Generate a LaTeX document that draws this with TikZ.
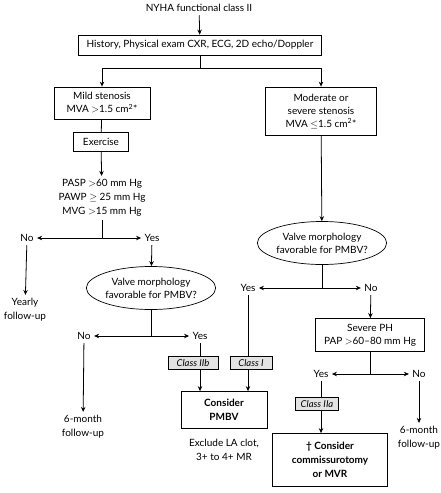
\documentclass[tikz,border=0pt]{standalone}
\usepackage{fontspec}
\setmainfont{Lato}
\usetikzlibrary{arrows.meta,positioning,shapes.geometric,calc}

\tikzset{
  box/.style={draw,line width=0.8pt,align=center,inner sep=2pt},
  classbox/.style={draw,line width=0.6pt,fill=gray!22,font=\fontsize{9.5}{10}\selectfont\itshape,
    inner sep=1pt,minimum height=13pt},
  decide/.style={ellipse,draw,line width=0.7pt,align=center,inner sep=0pt},
  txt/.style={align=center},
  line/.style={line width=0.8pt},
  arr/.style={line width=0.8pt,-{Stealth[length=5pt,width=4.5pt]}}
}

\begin{document}
\begin{tikzpicture}[x=1pt,y=-1pt,font=\fontsize{10}{13}\selectfont]
  \useasboundingbox (0,0) rectangle (441,493);
  % Top part
  \node[txt] (title) at (199,8) {NYHA functional class II};
  \node[box,minimum width=243pt,minimum height=20pt] (hist) at (200,45)
    {History, Physical exam CXR, ECG, 2D echo/Doppler};
  \node[box,minimum width=96pt,minimum height=32pt] (mild) at (102,103)
    {Mild stenosis\\MVA $>$1.5 cm\textsuperscript{2}*};
  \node[box,minimum width=111pt,minimum height=48pt] (mod) at (321,111)
    {Moderate or\\severe stenosis\\MVA $\leq$1.5 cm\textsuperscript{2}*};
  \coordinate (split1) at (200,68);
  \draw[line] (hist) -- (split1);
  \draw[arr] (split1) -| (mild);
  \draw[arr] (split1) -| (mod);
  \draw[arr] (title) -- (hist);

  % Mild stenosis branch
  \node[box,minimum width=55pt,minimum height=19pt] (exer) at (101,142) {Exercise};
  \node[txt,font=\fontsize{10}{14}\selectfont] (pasp) at (102,198)
    {PASP $>$60 mm Hg\\PAWP $\geq$ 25 mm Hg\\MVG $>$15 mm Hg};
  \draw[line] (mild) -- (exer);
  \draw[arr] (exer) -- (pasp);
  \node[txt] (no1) at (27,238) {No};
  \node[txt] (yes1) at (152,238) {Yes};
  \coordinate (split2) at (102,238);
  \draw[line] (pasp) -- (split2);
  \draw[arr] (split2) -- (no1);
  \draw[arr] (split2) -- (yes1);
  \node[txt,font=\fontsize{10}{14}\selectfont] (yearly) at (25,310) {Yearly\\follow-up};
  \draw[arr] (no1) -- (yearly);
  \node[decide,minimum width=112pt,minimum height=43pt] (valve1) at (151,288)
    {Valve morphology\\favorable for PMBV?};
  \draw[arr] (yes1) -- (valve1);
  \node[txt] (no2) at (84,336) {No};
  \node[txt] (yes2) at (200,336) {Yes};
  \coordinate (split3) at (151,336);
  \draw[line] (valve1) -- (split3);
  \draw[arr] (split3) -- (no2);
  \draw[arr] (split3) -- (yes2);
  \node[txt,font=\fontsize{10}{14}\selectfont] (sixm1) at (83,427) {6-month\\follow-up};
  \draw[arr] (no2) -- (sixm1);

  % Moderate or severe branch
  \node[decide,minimum width=110pt,minimum height=43pt] (valve2) at (322,243)
    {Valve morphology\\favorable for PMBV?};
  \draw[arr] (mod) -- (valve2);
  \node[txt] (yes3) at (248,288) {Yes};
  \node[txt] (no3) at (371,288) {No};
  \coordinate (split4) at (322,288);
  \draw[line] (valve2) -- (split4);
  \draw[arr] (split4) -- (yes3);
  \draw[arr] (split4) -- (no3);
  \node[box,minimum width=109pt,minimum height=33pt] (sev) at (370,335)
    {Severe PH\\PAP $>$60--80 mm Hg};
  \draw[arr] (no3) -- (sev);
  \node[txt] (yes4) at (321,374) {Yes};
  \node[txt] (no4) at (419,374) {No};
  \coordinate (split5) at (370,374);
  \draw[line] (sev) -- (split5);
  \draw[arr] (split5) -- (yes4);
  \draw[arr] (split5) -- (no4);
  \node[txt,font=\fontsize{10}{14}\selectfont] (sixm2) at (419,438) {6-month\\follow-up};
  \draw[arr] (no4) -- (sixm2);

  % Class boxes and outcomes
  \node[classbox,minimum width=50pt] (c2b) at (193,363) {Class IIb};
  \node[classbox,minimum width=42pt] (c1) at (251,363) {Class I};
  \node[classbox,minimum width=43pt] (c2a) at (317,404) {Class IIa};
  \node[box,font=\fontsize{10}{14}\selectfont\bfseries,minimum width=86pt,minimum height=37pt]
    (pmbv) at (224,410) {Consider\\PMBV};
  \node[txt,font=\fontsize{10}{14}\selectfont] (excl) at (224,450) {Exclude LA clot,\\3+ to 4+ MR};
  \node[box,font=\fontsize{10}{14}\selectfont\bfseries,minimum width=115pt,minimum height=53pt]
    (cmvr) at (330,460) {\textdagger{} Consider\\commissurotomy\\or MVR};
  \draw[line] (yes2) -- (yes2 |- c2b.north);
  \draw[arr] (yes2 |- c2b.south) -- (yes2 |- pmbv.north);
  \draw[line] (yes3) -- (yes3 |- c1.north);
  \draw[arr] (yes3 |- c1.south) -- (yes3 |- pmbv.north);
  \draw[line] (yes4) -- (yes4 |- c2a.north);
  \draw[arr] (yes4 |- c2a.south) -- (yes4 |- cmvr.north);
\end{tikzpicture}
\end{document}
